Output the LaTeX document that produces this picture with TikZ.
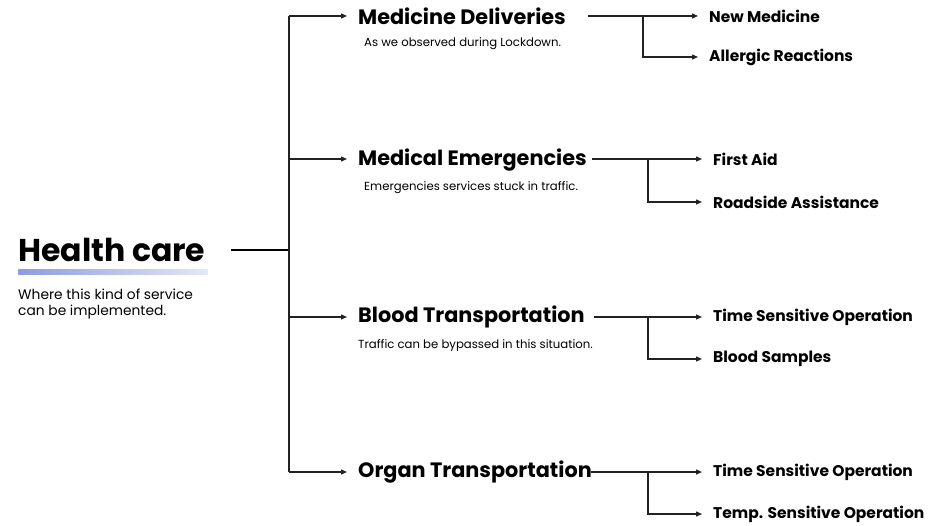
\documentclass[tikz,border=0pt]{standalone}
\usepackage{fontspec}
\setmainfont{Poppins}
\usetikzlibrary{arrows.meta}
\definecolor{barL}{HTML}{8C9CDF}
\definecolor{barR}{HTML}{E4E8F7}
\definecolor{ln}{HTML}{222222}
\begin{document}
\begin{tikzpicture}[x=1pt,y=-1pt,
  trunk/.style={line width=1.3pt, draw=ln},
  arr/.style={trunk,-{Triangle[length=6pt,width=5pt]}, shorten >=11pt},
  main/.style={anchor=west, inner sep=0pt, font=\fontsize{20.8}{23}\selectfont\bfseries},
  sub/.style={anchor=west, inner sep=0pt, font=\fontsize{11.7}{13}\selectfont},
  leaf/.style={anchor=west, inner sep=0pt, font=\fontsize{15.5}{17}\selectfont\bfseries}]
\useasboundingbox (0,0) rectangle (944,526);
% left title
\node[anchor=west, inner sep=0pt, font=\fontsize{31.5}{34}\selectfont\bfseries] (hc) at (18,250) {Health care};
\shade[left color=barL, right color=barR] (18,270) rectangle (208,275);
\node[anchor=north west, inner sep=0pt, align=left, font=\fontsize{13.8}{16}\selectfont] (hcs) at (18,289) {Where this kind of service\\can be implemented.};
% trunk
\coordinate (hcR) at (231,250);
\coordinate (tr) at (289,250);
\coordinate (t1) at (289,16);
\coordinate (t2) at (289,159);
\coordinate (t3) at (289,317);
\coordinate (t4) at (289,472);
\draw[line width=2pt, draw=black] (hcR) -- (tr);
\draw[trunk] (t1) -- (t4);
% main labels
\node[main] (m1) at (358,16) {Medicine Deliveries};
\node[main] (m2) at (358,160) {Medical Emergencies};
\node[main] (m3) at (358,317) {Blood Transportation};
\node[main] (m4) at (358,472) {Organ Transportation};
\node[sub] (s1) at (364,44) {As we observed during Lockdown.};
\node[sub] (s2) at (364,188) {Emergencies services stuck in traffic.};
\node[sub] (s3) at (358,346) {Traffic can be bypassed in this situation.};
\draw[arr] (t1) -- (t1 -| m1.west);
\draw[arr] (t2) -- (t2 -| m2.west);
\draw[arr] (t3) -- (t3 -| m3.west);
\draw[arr] (t4) -- (t4 -| m4.west);
% leaves
\node[leaf] (l1a) at (709,16) {New Medicine};
\node[leaf] (l1b) at (709,57) {Allergic Reactions};
\node[leaf] (l2a) at (713,159) {First Aid};
\node[leaf] (l2b) at (713,202) {Roadside Assistance};
\node[leaf] (l3a) at (713,317) {Time Sensitive Operation};
\node[leaf] (l3b) at (713,359) {Blood Samples};
\node[leaf] (l4a) at (713,472) {Time Sensitive Operation};
\node[leaf] (l4b) at (713,514) {Temp. Sensitive Operation};
% right connectors
\coordinate (r1) at (588,16);  \coordinate (b1) at (643,16);
\coordinate (r2) at (592,159); \coordinate (b2) at (648,159);
\coordinate (r3) at (594,317); \coordinate (b3) at (648,317);
\coordinate (r4) at (591,472); \coordinate (b4) at (648,472);
\draw[trunk] (r1) -- (b1);
\draw[trunk] (r2) -- (b2);
\draw[trunk] (r3) -- (b3);
\draw[trunk] (r4) -- (b4);
\draw[arr] (b1) -- (b1 -| l1a.west);
\draw[arr] (b1) |- (l1b.west);
\draw[arr] (b2) -- (b2 -| l2a.west);
\draw[arr] (b2) |- (l2b.west);
\draw[arr] (b3) -- (b3 -| l3a.west);
\draw[arr] (b3) |- (l3b.west);
\draw[arr] (b4) -- (b4 -| l4a.west);
\draw[arr] (b4) |- (l4b.west);
\end{tikzpicture}
\end{document}
